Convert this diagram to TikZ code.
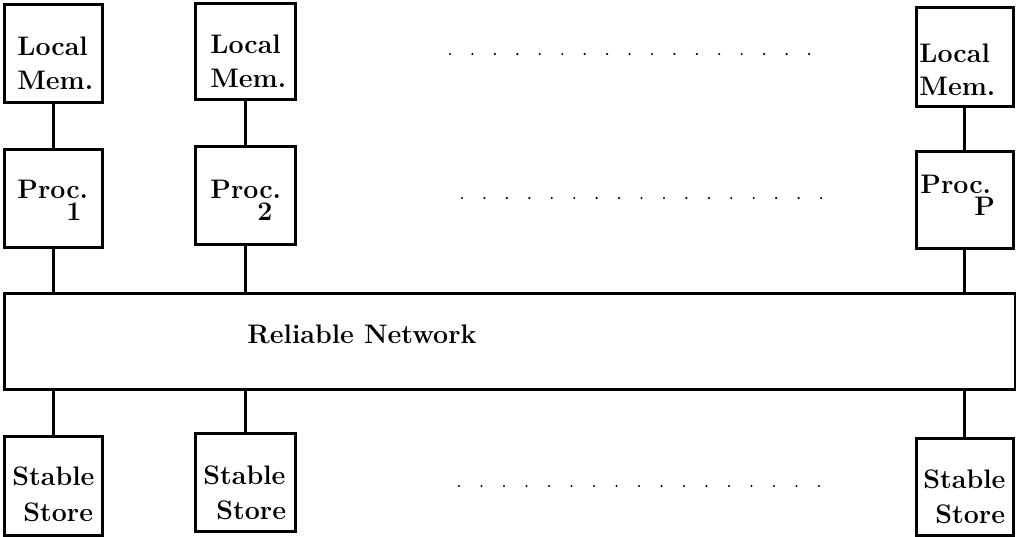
\documentclass[tikz,border=0pt]{standalone}
\begin{document}
\begin{tikzpicture}[x=0.5pt,y=-0.5pt,
  unit/.style={draw,line width=1.5pt,rectangle,inner sep=0pt},
  link/.style={line width=1.5pt},
  lbl/.style={inner sep=0pt,anchor=base west,align=left,
    font=\fontsize{13.4}{15}\bfseries\selectfont},
  dotmark/.style={fill=black}]
\useasboundingbox (0,0) rectangle (1016,536);

% column 1
\node[unit,minimum width=49pt,minimum height=49pt] (lm1) at (53,53) {};
\node[unit,minimum width=49pt,minimum height=49pt] (p1) at (53,198) {};
\node[unit,minimum width=49pt,minimum height=49.5pt] (ss1) at (53,485.5) {};
% column 2
\node[unit,minimum width=50pt,minimum height=48pt] (lm2) at (245,51) {};
\node[unit,minimum width=50pt,minimum height=49pt] (p2) at (245,195) {};
\node[unit,minimum width=50pt,minimum height=49pt] (ss2) at (245,482) {};
% column P
\node[unit,minimum width=48.5pt,minimum height=49.5pt] (lmP) at (964.5,56.5) {};
\node[unit,minimum width=48.5pt,minimum height=48.5pt] (pP) at (964.5,199.5) {};
\node[unit,minimum width=48.5pt,minimum height=48.5pt] (ssP) at (964.5,486.5) {};
% network
\node[unit,minimum width=505.5pt,minimum height=48pt] (net) at (509.5,341) {};

% labels (anchored at the baseline of the last line)
\node[lbl] (t-lm1) at (17,89) {Local\\[2pt]Mem.};
\node[lbl] (t-lm2) at (210,87) {Local\\[2pt]Mem.};
\node[lbl] (t-lmP) at (919,95) {Local\\[1.5pt]Mem.};

\node[lbl] (t-p1) at (17,220) {Proc.\\[-4pt]\hspace*{24.5pt}1};
\node[lbl] (t-p2) at (210,220) {Proc.\\[-4pt]\hspace*{23.5pt}2};
\node[lbl] (t-pP) at (920,215) {Proc.\\[-4pt]\hspace*{27pt}P};

\node[lbl] (t-ss1) at (12,521) {Stable\\[3pt]\hspace*{5.5pt}Store};
\node[lbl] (t-ss2) at (203,519) {Stable\\[2.5pt]\hspace*{6.5pt}Store};
\node[lbl] (t-ssP) at (923,523) {Stable\\[2.5pt]\hspace*{6pt}Store};

\node[lbl] (t-net) at (247,343) {Reliable Network};

% connectors
\foreach \c in {1,2,P}{
  \draw[link] (lm\c.south) -- (p\c.north);
  \draw[link] (p\c.south) -- (p\c.south |- net.north);
  \draw[link] (ss\c.north |- net.south) -- (ss\c.north);
}

% ellipsis rows between column 2 and column P
\foreach \i in {0,...,16}{
  \fill[dotmark] (450+22.44*\i,54) circle[radius=0.6pt];
  \fill[dotmark] (462+22.44*\i,198) circle[radius=0.6pt];
  \fill[dotmark] (459+22.5*\i,486) circle[radius=0.6pt];
}
\end{tikzpicture}
\end{document}
